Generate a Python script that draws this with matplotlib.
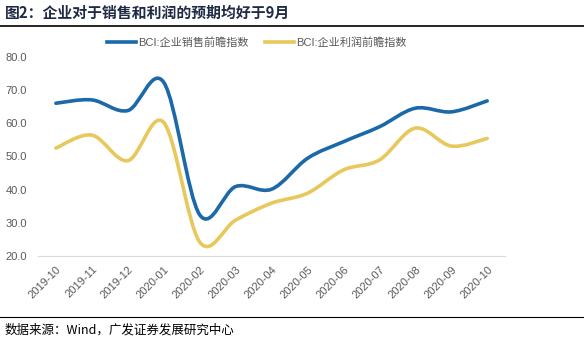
import matplotlib
matplotlib.use("Agg")
from matplotlib import pyplot as plt
from matplotlib.path import Path
from matplotlib.patches import PathPatch
from matplotlib.lines import Line2D

plt.rcParams['font.family'] = ['Liberation Sans', 'Noto Sans CJK SC', 'DejaVu Sans']

months = ['2019-10', '2019-11', '2019-12', '2020-01', '2020-02', '2020-03',
          '2020-04', '2020-05', '2020-06', '2020-07', '2020-08', '2020-09',
          '2020-10']
sales = [66.0, 67.0, 63.8, 72.3, 32.4, 40.9, 40.1, 49.4, 54.4, 58.9, 64.5, 63.4, 66.7]
profit = [52.5, 56.4, 48.7, 60.2, 24.2, 30.8, 35.9, 38.9, 45.9, 48.9, 58.5, 53.1, 55.4]
names = ['BCI:企业销售前瞻指数', 'BCI:企业利润前瞻指数']
colors = ['#1B69A8', '#E8C85C']


def smooth_path(xs, ys):
    # Excel-style smoothed line: cubic bezier through the points
    verts = [(xs[0], ys[0])]
    codes = [Path.MOVETO]
    n = len(xs)
    for i in range(n - 1):
        x0, y0 = (xs[i - 1], ys[i - 1]) if i > 0 else (xs[i], ys[i])
        x1, y1 = xs[i], ys[i]
        x2, y2 = xs[i + 1], ys[i + 1]
        x3, y3 = (xs[i + 2], ys[i + 2]) if i + 2 < n else (x2, y2)
        c1 = (x1 + (x2 - x0) / 6, y1 + (y2 - y0) / 6)
        c2 = (x2 - (x3 - x1) / 6, y2 - (y3 - y1) / 6)
        verts += [c1, c2, (x2, y2)]
        codes += [Path.CURVE4] * 3
    return Path(verts, codes)


fig = plt.figure(figsize=(5.84, 3.44), dpi=100)
ax = fig.add_axes([0.065, 0.256, 0.8, 0.579])

xs = list(range(len(months)))
for vals, c in zip([sales, profit], colors):
    ax.add_patch(PathPatch(smooth_path(xs, vals), facecolor='none',
                           edgecolor=c, lw=2.6, capstyle='round'))

ax.set_xlim(-0.5, len(months) - 0.5)
ax.set_ylim(20, 80)
ax.set_yticks([20, 30, 40, 50, 60, 70, 80])
ax.set_yticklabels([f'{v:.1f}' for v in [20, 30, 40, 50, 60, 70, 80]])
ax.set_xticks(xs)
ax.set_xticklabels(months, rotation=45, ha='right', rotation_mode='anchor')
ax.tick_params(axis='both', length=0, labelsize=8, labelcolor='#595959')
ax.tick_params(axis='y', pad=8)
ax.tick_params(axis='x', pad=6)
for s in ['top', 'right', 'left']:
    ax.spines[s].set_visible(False)
ax.spines['bottom'].set_color('#D9D9D9')

handles = [Line2D([], [], color=c, lw=2.6) for c in colors]
fig.legend(handles, names, loc='center', bbox_to_anchor=(0.44, 0.875),
           ncol=2, frameon=False, fontsize=8, labelcolor='#595959',
           handlelength=2.6, handletextpad=0.2, columnspacing=1.5,
           prop={'family': ['Liberation Sans', 'Noto Sans CJK SC'], 'size': 8})

fig.text(0.008, 0.962, '图2：企业对于销售和利润的预期均好于9月', fontsize=10.7,
         fontweight='bold', color='#1F2A44', va='center',
         family=['Noto Sans CJK SC', 'DejaVu Sans'])
fig.add_artist(Line2D([0, 1], [1 - 26 / 344] * 2, color='black', lw=1.2))
fig.add_artist(Line2D([0, 1], [1 - 317 / 344] * 2, color='black', lw=0.8))
fig.text(0.008, 1 - 330 / 344, '数据来源：Wind，广发证券发展研究中心', fontsize=9,
         color='black', va='center', family=['Noto Sans CJK SC', 'DejaVu Sans'])

fig.savefig('out.png', dpi=100, facecolor='white')
